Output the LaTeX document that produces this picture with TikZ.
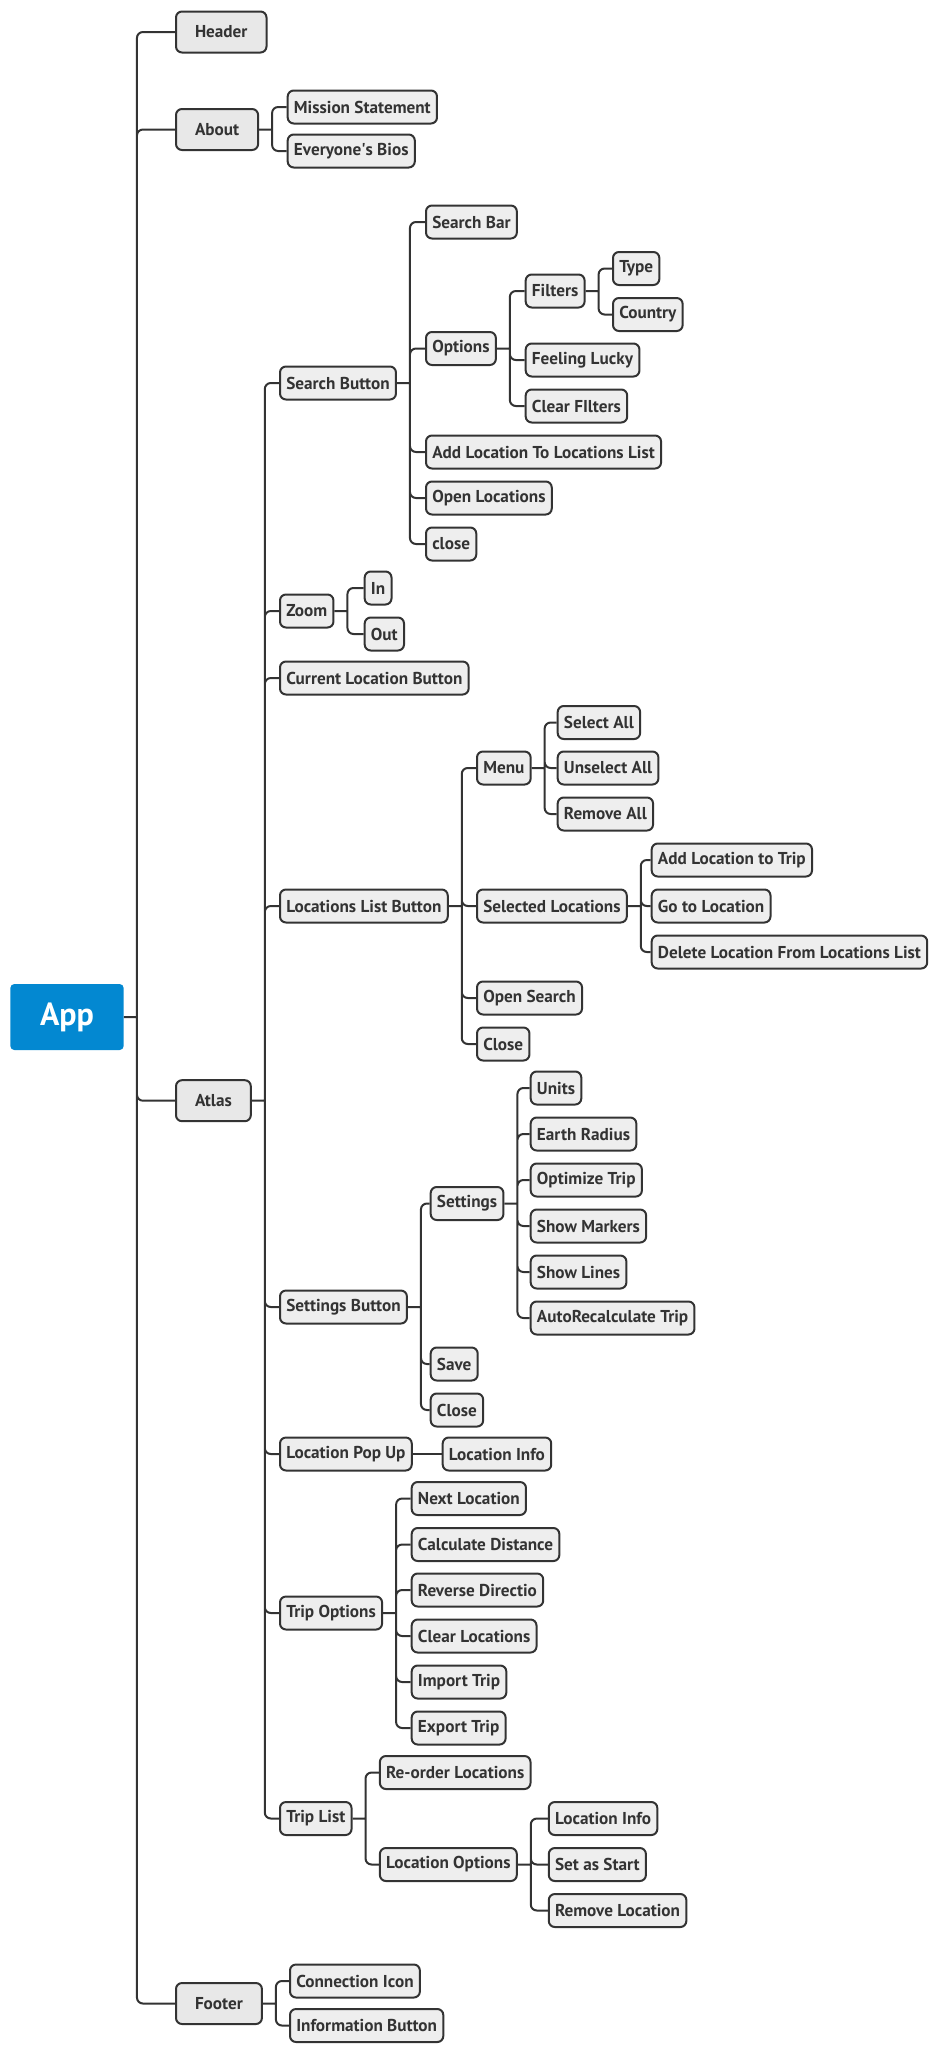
\documentclass[tikz,border=0pt]{standalone}
\usepackage{fontspec}
\setmainfont{PT Sans}
\usetikzlibrary{shapes}

\definecolor{appblue}{RGB}{3,136,209}
\definecolor{ink}{RGB}{51,51,51}
\definecolor{topfill}{RGB}{232,232,232}
\definecolor{subfill}{RGB}{238,238,238}

\begin{document}
\begin{tikzpicture}[x=0.75pt,y=-0.75pt,
	every node/.style={font=\bfseries\fontsize{12.9}{15}\selectfont,text=ink},
	root/.style={fill=appblue,rounded corners=3pt,minimum width=85pt,minimum height=49.5pt,text=white,font=\bfseries\fontsize{24}{28}\selectfont},
	topic/.style={draw=ink,line width=1.5pt,fill=topfill,rounded corners=4.5pt,minimum height=30.75pt,inner xsep=14.25pt,anchor=west},
	sub/.style={draw=ink,line width=1.5pt,fill=subfill,rounded corners=4.5pt,minimum height=24.75pt,inner xsep=4.7pt,anchor=west},
	link/.style={draw=ink,line width=1.5pt,rounded corners=4.5pt}]
		\useasboundingbox (0,0) rectangle (938,2053);
		
		%root and first level
		\node[root] (app) at (67,1017) {App};
		\node[topic] (header) at (175,32) {Header};
		\node[topic] (about) at (175,129.5) {About};
		\node[topic] (atlas) at (175,1100.7) {Atlas};
		\node[topic] (footer) at (175,2003.5) {Footer};
		
		%about
		\node[sub] (mission) at (286.7,107) {Mission Statement};
		\node[sub] (bios) at (286.7,151) {Everyone\textquotesingle s Bios};
		
		%atlas
		\node[sub] (searchbtn) at (279,383) {Search Button};
		\node[sub] (zoom) at (279,611) {Zoom};
		\node[sub] (curloc) at (279,678) {Current Location Button};
		\node[sub] (loclist) at (279,906) {Locations List Button};
		\node[sub] (setbtn) at (279,1307) {Settings Button};
		\node[sub] (popup) at (279,1454) {Location Pop Up};
		\node[sub] (tripopt) at (279,1613) {Trip Options};
		\node[sub] (triplist) at (279,1818.5) {Trip List};
		
		%search button
		\node[sub] (searchbar) at (425,222) {Search Bar};
		\node[sub] (options) at (425,348.5) {Options};
		\node[sub] (addloc) at (425,452) {Add Location To Locations List};
		\node[sub] (openloc) at (425,498) {Open Locations};
		\node[sub] (sclose) at (425,544) {close};
		\node[sub] (filters) at (524.7,291) {Filters};
		\node[sub] (lucky) at (524.7,360) {Feeling Lucky};
		\node[sub] (clearf) at (524.7,406) {Clear FIlters};
		\node[sub] (type) at (612,268.5) {Type};
		\node[sub] (country) at (612,314.5) {Country};
		
		%zoom
		\node[sub] (zin) at (363.7,588) {In};
		\node[sub] (zout) at (363.7,634) {Out};
		
		%locations list
		\node[sub] (menu) at (476,768) {Menu};
		\node[sub] (selloc) at (476,906) {Selected Locations};
		\node[sub] (opensearch) at (476,998) {Open Search};
		\node[sub] (lclose) at (476,1044) {Close};
		\node[sub] (selall) at (556.7,722.5) {Select All};
		\node[sub] (unselall) at (556.7,768) {Unselect All};
		\node[sub] (remall) at (556.7,814) {Remove All};
		\node[sub] (addtrip) at (650.7,860) {Add Location to Trip};
		\node[sub] (goto) at (650.7,906) {Go to Location};
		\node[sub] (delloc) at (650.7,952) {Delete Location From Locations List};
		
		%settings
		\node[sub] (settings) at (429.7,1203.5) {Settings};
		\node[sub] (save) at (429.7,1364) {Save};
		\node[sub] (sclose2) at (429.7,1410) {Close};
		\node[sub] (units) at (529.7,1088) {Units};
		\node[sub] (radius) at (529.7,1134) {Earth Radius};
		\node[sub] (optimize) at (529.7,1180) {Optimize Trip};
		\node[sub] (markers) at (529.7,1226) {Show Markers};
		\node[sub] (lines) at (529.7,1272) {Show Lines};
		\node[sub] (autorecalc) at (529.7,1318) {AutoRecalculate Trip};
		
		%pop up and trip options
		\node[sub] (popinfo) at (441.7,1454) {Location Info};
		\node[sub] (nextloc) at (410.7,1498.5) {Next Location};
		\node[sub] (calcdist) at (410.7,1544.5) {Calculate Distance};
		\node[sub] (reverse) at (410.7,1590) {Reverse Directio};
		\node[sub] (clearloc) at (410.7,1636) {Clear Locations};
		\node[sub] (import) at (410.7,1682) {Import Trip};
		\node[sub] (export) at (410.7,1728) {Export Trip};
		
		%trip list
		\node[sub] (reorder) at (378.9,1772.5) {Re-order Locations};
		\node[sub] (locopt) at (378.9,1864.5) {Location Options};
		\node[sub] (optinfo) at (547.8,1818.5) {Location Info};
		\node[sub] (setstart) at (547.8,1864.5) {Set as Start};
		\node[sub] (remloc) at (547.8,1910.5) {Remove Location};
		
		%footer
		\node[sub] (connicon) at (289,1981) {Connection Icon};
		\node[sub] (infobtn) at (289,2025.5) {Information Button};
		
		%branches
		\draw[link] (app.east) -- ++(13,0) (app.east) ++(13,0) |- (header.west) (app.east) ++(13,0) |- (about.west)
			(app.east) ++(13,0) |- (atlas.west) (app.east) ++(13,0) |- (footer.west);
		\draw[link] (about.east) -- ++(13,0) (about.east) ++(13,0) |- (mission.west) (about.east) ++(13,0) |- (bios.west);
		\draw[link] (atlas.east) -- ++(13,0) (atlas.east) ++(13,0) |- (searchbtn.west) (atlas.east) ++(13,0) |- (zoom.west)
			(atlas.east) ++(13,0) |- (curloc.west) (atlas.east) ++(13,0) |- (loclist.west) (atlas.east) ++(13,0) |- (setbtn.west)
			(atlas.east) ++(13,0) |- (popup.west) (atlas.east) ++(13,0) |- (tripopt.west) (atlas.east) ++(13,0) |- (triplist.west);
		\draw[link] (footer.east) -- ++(13,0) (footer.east) ++(13,0) |- (connicon.west) (footer.east) ++(13,0) |- (infobtn.west);
		
		\draw[link] (searchbtn.east) -- ++(13,0) (searchbtn.east) ++(13,0) |- (searchbar.west) (searchbtn.east) ++(13,0) |- (options.west)
			(searchbtn.east) ++(13,0) |- (addloc.west) (searchbtn.east) ++(13,0) |- (openloc.west) (searchbtn.east) ++(13,0) |- (sclose.west);
		\draw[link] (options.east) -- ++(13,0) (options.east) ++(13,0) |- (filters.west) (options.east) ++(13,0) |- (lucky.west)
			(options.east) ++(13,0) |- (clearf.west);
		\draw[link] (filters.east) -- ++(13,0) (filters.east) ++(13,0) |- (type.west) (filters.east) ++(13,0) |- (country.west);
		\draw[link] (zoom.east) -- ++(13,0) (zoom.east) ++(13,0) |- (zin.west) (zoom.east) ++(13,0) |- (zout.west);
		
		\draw[link] (loclist.east) -- ++(13,0) (loclist.east) ++(13,0) |- (menu.west) (loclist.east) ++(13,0) |- (selloc.west)
			(loclist.east) ++(13,0) |- (opensearch.west) (loclist.east) ++(13,0) |- (lclose.west);
		\draw[link] (menu.east) -- ++(13,0) (menu.east) ++(13,0) |- (selall.west) (menu.east) ++(13,0) |- (unselall.west)
			(menu.east) ++(13,0) |- (remall.west);
		\draw[link] (selloc.east) -- ++(13,0) (selloc.east) ++(13,0) |- (addtrip.west) (selloc.east) ++(13,0) |- (goto.west)
			(selloc.east) ++(13,0) |- (delloc.west);
		
		\draw[link] (setbtn.east) -- ++(13,0) (setbtn.east) ++(13,0) |- (settings.west) (setbtn.east) ++(13,0) |- (save.west)
			(setbtn.east) ++(13,0) |- (sclose2.west);
		\draw[link] (settings.east) -- ++(13,0) (settings.east) ++(13,0) |- (units.west) (settings.east) ++(13,0) |- (radius.west)
			(settings.east) ++(13,0) |- (optimize.west) (settings.east) ++(13,0) |- (markers.west)
			(settings.east) ++(13,0) |- (lines.west) (settings.east) ++(13,0) |- (autorecalc.west);
		
		\draw[link] (popup.east) -- (popinfo.west);
		\draw[link] (tripopt.east) -- ++(13,0) (tripopt.east) ++(13,0) |- (nextloc.west) (tripopt.east) ++(13,0) |- (calcdist.west)
			(tripopt.east) ++(13,0) |- (reverse.west) (tripopt.east) ++(13,0) |- (clearloc.west)
			(tripopt.east) ++(13,0) |- (import.west) (tripopt.east) ++(13,0) |- (export.west);
		\draw[link] (triplist.east) -- ++(13,0) (triplist.east) ++(13,0) |- (reorder.west) (triplist.east) ++(13,0) |- (locopt.west);
		\draw[link] (locopt.east) -- ++(13,0) (locopt.east) ++(13,0) |- (optinfo.west) (locopt.east) ++(13,0) |- (setstart.west)
			(locopt.east) ++(13,0) |- (remloc.west);
		
\end{tikzpicture}
\end{document}
